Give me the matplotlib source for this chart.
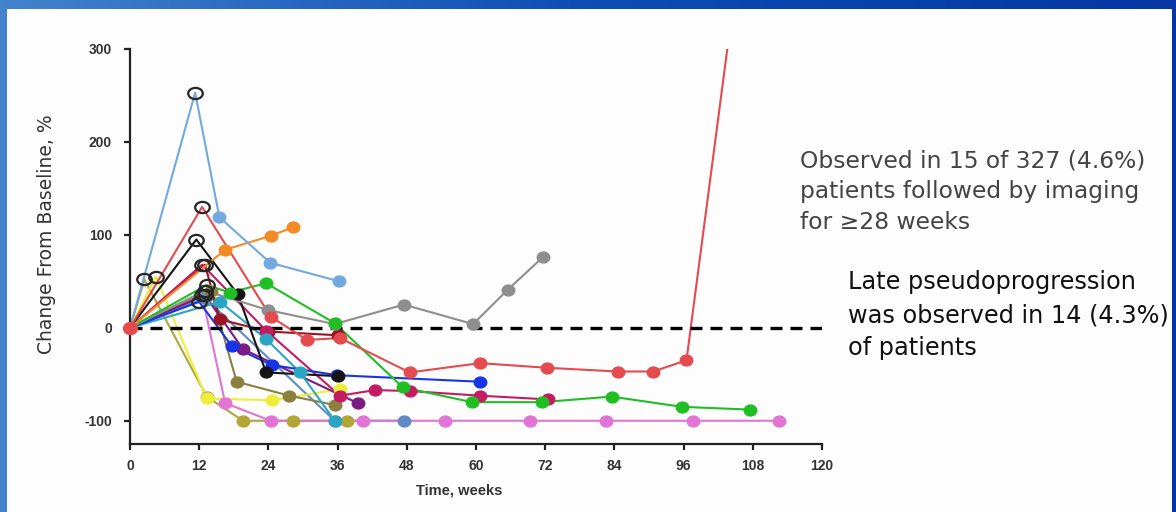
import numpy as np
import matplotlib
matplotlib.use("Agg")
import matplotlib.pyplot as plt
from matplotlib.path import Path
from matplotlib.transforms import Affine2D
from matplotlib.patches import Rectangle
from matplotlib.colors import LinearSegmentedColormap

plt.rcParams['font.family'] = ['Liberation Sans', 'DejaVu Sans']
plt.rcParams['axes.unicode_minus'] = False

#------------------------------------------------------------------------------#
# Per-patient tumour burden, % change from baseline vs weeks on study

lightblue_weeks = [0, 11.3, 15.5, 24.3, 36.3]
lightblue_change = [0, 253, 119, 70, 50]

orange_weeks = [0, 16.5, 24.4, 28.2]
orange_change = [0, 84, 99, 108]

gray_weeks = [0, 13.0, 24.0, 35.5, 47.5, 59.5, 65.5, 71.6]
gray_change = [0, 40, 19, 4, 25, 4, 41, 76]

green_weeks = [0, 13.3, 17.3, 23.6, 35.5, 47.3, 59.3, 71.4, 83.5, 95.7, 107.5]
green_change = [0, 46, 38, 48, 5, -64, -80, -80, -74, -85, -88]

red_weeks = [0, 12.5, 24.4, 30.7, 36.4, 48.5, 60.7, 72.3, 84.6, 90.7, 96.5, 104.0]
red_change = [0, 130, 12, -13, -11, -48, -38, -43, -47, -47, -35, 320]

black_weeks = [0, 11.5, 18.7, 23.6, 36.0]
black_change = [0, 95, 36, -48, -52]

blue_weeks = [0, 12.0, 17.7, 24.6, 35.9, 60.7]
blue_change = [0, 28, -20, -40, -51, -58]

teal_weeks = [0, 15.6, 23.6, 29.5, 35.5]
teal_change = [0, 28, -12, -48, -100]

crimson_weeks = [0, 12.5, 23.6, 36.4, 42.5, 48.5, 60.7, 72.4]
crimson_change = [0, 68, -3, -73, -67, -68, -73, -77]

maroon_weeks = [0, 13.0, 15.6, 24.0, 36.0]
maroon_change = [0, 68, 9, -4, -8]

purple_weeks = [0, 13.0, 19.6, 39.5]
purple_change = [0, 35, -23, -81]

olive_weeks = [0, 14.0, 18.5, 27.6, 35.5]
olive_change = [0, 40, -58, -73, -83]

yellow_weeks = [0, 4.5, 13.3, 24.6, 36.4]
yellow_change = [0, 55, -76, -78, -66]

pink_weeks = [0, 12.5, 16.5, 24.4, 40.4, 54.6, 69.3, 82.6, 97.6, 112.5]
pink_change = [0, 35, -81, -100, -100, -100, -100, -100, -100, -100]

gold_weeks = [0, 2.5, 13.3, 19.6, 28.2, 37.6]
gold_change = [0, 52, -74, -100, -100, -100]

steel_weeks = [0, 13.0, 35.5, 47.5]
steel_change = [0, 32, -100, -100]

# index of the circled (pseudoprogression) assessment in each series
circled = {
    "lightblue": 1, "gray": 1, "green": 1, "red": 1, "black": 1, "blue": 1,
    "crimson": 1, "maroon": 1, "purple": 1, "yellow": 1, "pink": 1, "gold": 1,
}

x_ticks = [0, 12, 24, 36, 48, 60, 72, 84, 96, 108, 120]
y_ticks = [-100, 0, 100, 200, 300]

note_top = "Observed in 15 of 327 (4.6%)\npatients followed by imaging\nfor \u226528 weeks"
note_late = "Late pseudoprogression\nwas observed in 14 (4.3%)\nof patients"

#------------------------------------------------------------------------------#

series = [
    ("steel", steel_weeks, steel_change, "#5f8cc6"),
    ("gold", gold_weeks, gold_change, "#b3a536"),
    ("pink", pink_weeks, pink_change, "#e274d6"),
    ("yellow", yellow_weeks, yellow_change, "#eeee3a"),
    ("olive", olive_weeks, olive_change, "#8c8040"),
    ("purple", purple_weeks, purple_change, "#7c1a86"),
    ("maroon", maroon_weeks, maroon_change, "#9a1424"),
    ("crimson", crimson_weeks, crimson_change, "#c41c62"),
    ("teal", teal_weeks, teal_change, "#2aa6c4"),
    ("blue", blue_weeks, blue_change, "#1636e6"),
    ("black", black_weeks, black_change, "#151515"),
    ("gray", gray_weeks, gray_change, "#8e8e8e"),
    ("green", green_weeks, green_change, "#1fbf24"),
    ("orange", orange_weeks, orange_change, "#f28b26"),
    ("lightblue", lightblue_weeks, lightblue_change, "#72a9e0"),
    ("red", red_weeks, red_change, "#e54a4e"),
]

# slightly wide ellipses for the dots and the open rings
dot = Path.unit_circle().transformed(Affine2D().scale(1.15, 1.0))
ring = Path.unit_circle().transformed(Affine2D().scale(1.3, 1.0))

fig = plt.figure(figsize=(11.76, 5.12), dpi=100)

# blue slide frame behind a white panel
bg = fig.add_axes([0, 0, 1, 1], zorder=-10)
frame_cmap = LinearSegmentedColormap.from_list("frame", ["#4582cc", "#0c4db6", "#0536a4"])
bg.imshow(np.linspace(0, 1, 256).reshape(1, -1), aspect="auto", cmap=frame_cmap,
          extent=[0, 1, 0, 1])
bg.add_patch(Rectangle((7 / 1176, 0), 1165 / 1176, 503 / 512,
                       facecolor="#fdfdfd", edgecolor="none"))
bg.set_xlim(0, 1)
bg.set_ylim(0, 1)
bg.axis("off")

ax = fig.add_axes([130 / 1176, 68 / 512, 692 / 1176, 395 / 512])
ax.set_facecolor("none")

for name, wk, ch, col in series:
    ax.plot(wk, ch, color=col, lw=1.5, zorder=2, solid_capstyle="round")
    hollow = circled.get(name, -1)
    keep = [i for i in range(1, len(wk)) if i != hollow]
    ax.plot([wk[i] for i in keep], [ch[i] for i in keep], ls="none", marker=dot,
            ms=9, color=col, mec=col, zorder=4)

ax.axhline(0, color="black", lw=2.4, dashes=(3.6, 2.4), zorder=3)

for name, wk, ch, col in series:
    if name in circled:
        i = circled[name]
        ax.plot(wk[i], ch[i], ls="none", marker=ring, ms=10.5, mfc="none",
                mec="#262626", mew=1.6, zorder=5)

# shared baseline point
ax.plot(red_weeks[0], red_change[0], ls="none", marker=dot, ms=10, color="#e54a4e",
        zorder=6, clip_on=False)

ax.set_xlim(0, 120)
ax.set_ylim(-125, 300)
ax.set_xticks(x_ticks)
ax.set_yticks(y_ticks)
for s in ["top", "right"]:
    ax.spines[s].set_visible(False)
for s in ["left", "bottom"]:
    ax.spines[s].set_color("#222222")
    ax.spines[s].set_linewidth(1.6)
ax.tick_params(axis="both", direction="out", length=4, width=1.6, color="#222222",
               labelsize=10, labelcolor="#333333")
ax.tick_params(axis="y", pad=9)
ax.tick_params(axis="x", pad=7)
for lbl in ax.get_xticklabels() + ax.get_yticklabels():
    lbl.set_fontweight("bold")

ax.set_xlabel("Time, weeks", fontsize=10.5, fontweight="bold", color="#333333")
ax.xaxis.set_label_coords(0.475, -0.099)
fig.text(47 / 1176, 1 - 234 / 512, "Change From Baseline, %", rotation=90,
         ha="center", va="center", fontsize=13.5, color="#333333", family="DejaVu Sans")

fig.text(800 / 1176, 1 - 149 / 512, note_top, ha="left", va="top",
         fontsize=16.8, color="#444444", linespacing=1.45, family="DejaVu Sans")
fig.text(848 / 1176, 1 - 270 / 512, note_late, ha="left", va="top",
         fontsize=17.3, color="#111111", linespacing=1.48, family="DejaVu Sans")

fig.savefig("out.png", dpi=100)
